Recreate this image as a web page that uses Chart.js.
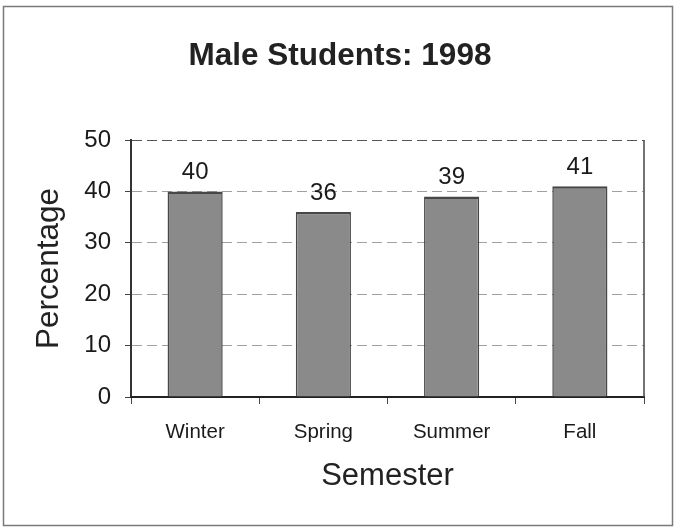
<!DOCTYPE html>
<html>
<head>
<meta charset="utf-8">
<title>Male Students: 1998</title>
<script src="https://cdn.jsdelivr.net/npm/chart.js@4.4.1/dist/chart.umd.min.js"></script>
<style>
  html, body { margin: 0; padding: 0; background: #fff; }
  canvas { display: block; }
</style>
</head>
<body>
<canvas id="barChart" width="676" height="531"></canvas>
<script>
const semesters = ['Winter', 'Spring', 'Summer', 'Fall'];
const percentages = [40, 36, 39, 41];
const yTicks = [0, 10, 20, 30, 40, 50];

const font = '"Liberation Sans", Arial, sans-serif';

// frame round the whole picture + right edge of the plot box
const framePlugin = {
    id: 'frame',
    beforeDraw(chart) {
        const ctx = chart.ctx;
        ctx.save();
        ctx.fillStyle = '#fff';
        ctx.fillRect(0, 0, chart.width, chart.height);
        ctx.strokeStyle = '#7a7a7a';
        ctx.lineWidth = 1.5;
        ctx.strokeRect(3.5, 6.5, 669, 519);
        ctx.restore();
    },
    afterDraw(chart) {
        const a = chart.chartArea;
        const ctx = chart.ctx;
        ctx.save();
        ctx.strokeStyle = '#444';
        ctx.lineWidth = 1.5;
        ctx.beginPath();
        ctx.moveTo(a.right, a.top);
        ctx.lineTo(a.right, a.bottom);
        ctx.stroke();
        ctx.restore();
    }
};

// value labels above each bar
const valueLabels = {
    id: 'valueLabels',
    afterDatasetsDraw(chart) {
        const ctx = chart.ctx;
        const meta = chart.getDatasetMeta(0);
        ctx.save();
        ctx.font = '24px ' + font;
        ctx.fillStyle = '#1a1a1a';
        ctx.textAlign = 'center';
        ctx.textBaseline = 'middle';
        meta.data.forEach((bar, i) => {
            ctx.fillText(String(percentages[i]), bar.x, bar.y - 19);
        });
        ctx.restore();
    }
};

new Chart(document.getElementById('barChart'), {
    type: 'bar',
    data: {
        labels: semesters,
        datasets: [{
            label: 'Percentage',
            data: percentages,
            backgroundColor: '#8a8a8a',
            borderColor: '#474747',
            borderWidth: { top: 2.5, left: 1.5, right: 1.5, bottom: 0 },
            borderSkipped: false,
            categoryPercentage: 1,
            barPercentage: 0.43
        }]
    },
    options: {
        responsive: false,
        animation: false,
        devicePixelRatio: 1,
        layout: { padding: { top: 0, right: 32, bottom: 0, left: 36 } },
        plugins: {
            legend: { display: false },
            tooltip: { enabled: false },
            title: {
                display: true,
                text: 'Male Students: 1998',
                color: '#222',
                font: { family: font, size: 31.5, weight: 'bold' },
                padding: { top: 37, bottom: 65.2 }
            }
        },
        scales: {
            y: {
                min: 0,
                max: 50,
                afterFit(scale) { scale.width = 95; },
                afterBuildTicks(scale) { scale.ticks = yTicks.map(v => ({ value: v })); },
                ticks: {
                    color: '#1a1a1a',
                    padding: 14,
                    font: { family: font, size: 24 }
                },
                grid: {
                    color: c => (c.tick && c.tick.value === 50) ? '#555' : '#a0a0a0',
                    lineWidth: 1,
                    tickLength: 6,
                    tickColor: '#444',
                    tickBorderDash: []
                },
                border: { display: true, color: '#333', width: 2, dash: [10, 5] },
                title: {
                    display: true,
                    text: 'Percentage',
                    color: '#222',
                    font: { family: font, size: 31.5 },
                    padding: { top: -6, bottom: 0 }
                }
            },
            x: {
                afterFit(scale) { scale.height = 134; },
                ticks: {
                    color: '#1a1a1a',
                    padding: 16,
                    font: { family: font, size: 20.5 }
                },
                grid: {
                    drawOnChartArea: false,
                    drawTicks: true,
                    tickLength: 7,
                    tickColor: '#444'
                },
                border: { display: true, color: '#222', width: 2 },
                title: {
                    display: true,
                    text: 'Semester',
                    color: '#222',
                    font: { family: font, size: 31 },
                    padding: { top: 0, bottom: 36 }
                }
            }
        }
    },
    plugins: [framePlugin, valueLabels]
});
</script>
</body>
</html>
